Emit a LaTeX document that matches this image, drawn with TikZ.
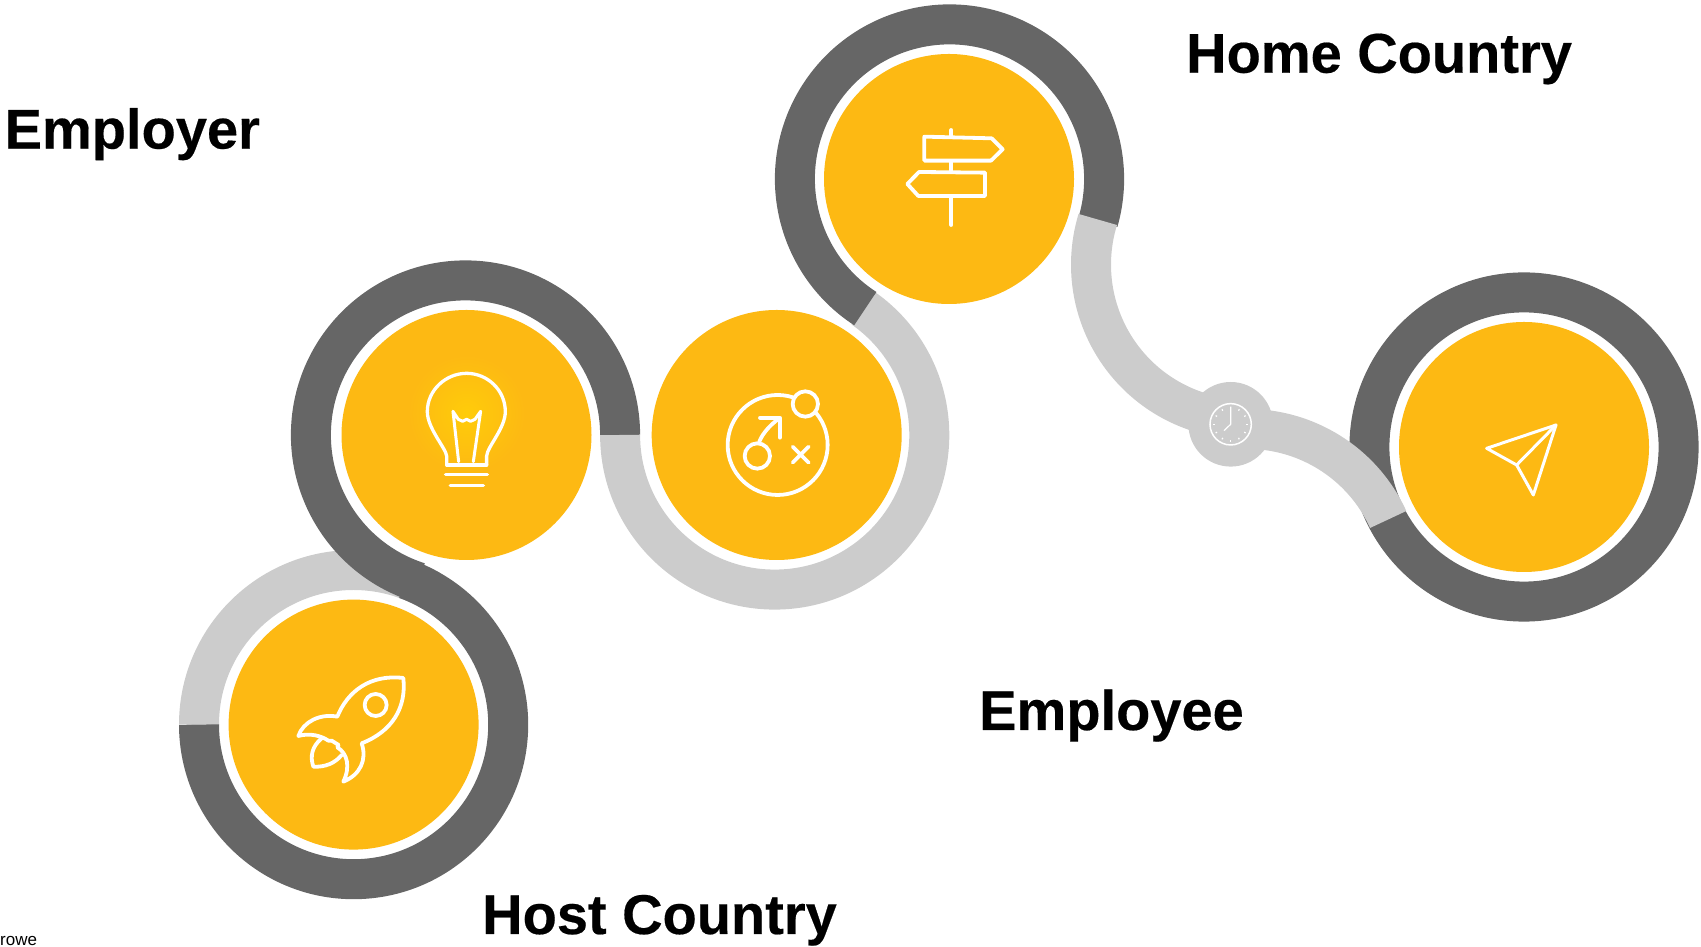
\documentclass[tikz,border=0pt]{standalone}
\usepackage{fontspec}
\setmainfont{Liberation Sans}
\newfontfamily\lblfont{Liberation Sans Bold}[FakeBold=0.35]
\definecolor{ringdark}{HTML}{666666}
\definecolor{ringlight}{HTML}{CCCCCC}
\definecolor{gold}{HTML}{FDB913}
\definecolor{glow}{HTML}{FFCC0A}
\tikzset{
  darkband/.style={draw=ringdark,line width=40pt},
  lightband/.style={draw=ringlight,line width=40pt},
  disc/.style={fill=gold,draw=none},
  icon/.style={draw=white,line cap=round,line join=round,line width=3.8pt},
  title/.style={font=\lblfont\fontsize{56}{60}\selectfont,anchor=base west,inner sep=0pt,text=black},
}
\def\R{154.6}
\begin{document}
\begin{tikzpicture}[x=1pt,y=1pt]
\useasboundingbox (0,0) rectangle (1701,947);
\coordinate (rocket) at (353.6,222.4);
\coordinate (bulb) at (466.5,512);
\coordinate (target) at (776.7,512);
\coordinate (sign) at (949,768);
\coordinate (plane) at (1524,500);
\coordinate (clock) at (1230.7,522.7);
\coordinate (ringB) at (465.5,512);
\coordinate (ringT) at (774.7,512);
\coordinate (ringS) at (949.5,768);
\coordinate (bendA) at (1245.6,682.3);
\coordinate (bendB) at (1247.5,363.4);
% rocket ring: light over the top, dark round the rest
\draw[lightband] (rocket) ++(180:\R pt) arc (180:60:\R pt);
\draw[darkband] (rocket) ++(180:\R pt) arc (180:430.1:\R pt);
\draw[darkband] (ringB) ++(0:\R pt) arc (0:252.3:\R pt);
% plane dark ring
\draw[darkband] (plane) circle [radius=\R pt];
% target ring and sign ring
\draw[lightband] (ringT) ++(180:\R pt) arc (180:415:\R pt);
\draw[darkband] (ringS) ++(237:\R pt) arc (237:-16:\R pt);
% light curve sign -> clock -> plane
\draw[lightband] (bendA) ++(163:\R pt) arc (163:260:\R pt);
\draw[lightband] (bendB) ++(100:\R pt) arc (100:24.5:\R pt);
\fill[ringlight] (clock) circle [radius=42.3pt];
% discs
\foreach \c in {rocket,bulb,target,sign,plane}{\fill[disc] (\c) circle [radius=125pt];}
% bulb icon
\begin{scope}[shift={(270,597)},x=0.3333pt,y=-0.3333pt]
  \shade[inner color=glow,outer color=gold] (590,190) circle [radius=175];
  \draw[icon,line width=3.3pt] (530,345) -- (530,318) .. controls (528,295) and (472,235) .. (472,185) .. controls (472,120) and (528,70) .. (590,70) .. controls (652,70) and (706,120) .. (706,185) .. controls (706,235) and (652,290) .. (650,318) -- (650,345);
  \draw[icon,line width=3.3pt] (530,345) -- (650,345);
  \draw[icon,line width=3.6pt] (527,373) -- (652,373);
  \draw[icon,line width=3.6pt] (541,407) -- (640,407);
  \draw[icon,line width=3pt] (566,335) -- (549,184) -- (565,208) -- (578,214) -- (590,208) -- (602,214) -- (615,208) -- (632,184) -- (610,335);
\end{scope}
% rocket icon
\begin{scope}[shift={(260,297)},x=0.3333pt,y=-0.3333pt]
  \draw[icon] (232,200) .. controls (262,125) and (330,72) .. (430,84) .. controls (440,175) and (395,245) .. (305,280) .. controls (322,330) and (300,375) .. (250,395) .. controls (272,350) and (262,310) .. (232,292) -- (236,285) -- (215,272) -- (205,272) .. controls (185,258) and (150,248) .. (115,258) .. controls (130,215) and (180,190) .. (232,200) -- cycle;
  \draw[icon] (185,265) .. controls (155,290) and (150,320) .. (160,350) .. controls (195,352) and (225,340) .. (245,315);
  \draw[icon] (347,165) circle [radius=33];
\end{scope}
% target icon
\begin{scope}[shift={(700,577)},x=0.3333pt,y=-0.3333pt]
  \draw[icon] (233,225) circle [radius=150];
  \filldraw[icon,fill=gold] (316,102) circle [radius=38];
  \draw[icon] (178,215) .. controls (188,190) and (210,165) .. (238,145);
  \draw[icon] (180,143) -- (240,143) -- (240,203);
  \filldraw[icon,fill=gold] (172,258) circle [radius=38];
  \draw[icon] (278,230) -- (326,278) (326,230) -- (278,278);
\end{scope}
% signpost icon
\begin{scope}[shift={(890,837)},x=0.3333pt,y=-0.3333pt]
  \draw[icon] (184,60) -- (184,80) (184,155) -- (184,185) (184,260) -- (184,345);
  \draw[icon] (103,80) -- (305,85) -- (338,118) -- (303,152) -- (103,152) -- cycle;
  \draw[icon] (87,186) -- (285,188) -- (285,258) -- (85,258) -- (52,222) -- cycle;
\end{scope}
% plane icon
\begin{scope}[shift={(1460,537)},x=0.3333pt,y=-0.3333pt]
  \draw[icon,line width=3pt] (80,115) -- (288,45) -- (220,255) -- (170,165) -- cycle;
  \draw[icon,line width=3pt] (170,165) -- (288,45);
\end{scope}
% clock icon
\begin{scope}[shift={(1060,757)},x=0.3333pt,y=-0.3333pt]
  \draw[draw=white,line width=1.5pt] (512,703) circle [radius=62];
  \draw[draw=white,line width=1.2pt,line join=round] (512,650) -- (512,703) -- (492,722);
  \foreach \a in {0,30,...,330}{\draw[draw=white,line width=1.2pt] (512,703) ++(\a:47) -- ++(\a:5);}
\end{scope}
% labels
\node[title] (employer) at (4.5,798.4) {Employer};
\node[title] (home) at (1186,874.3) {Home Country};
\node[title] (employee) at (979,217) {Employee};
\node[title] (host) at (482,13) {Host Country};
\node[anchor=base west,inner sep=0pt,font=\fontsize{17}{20}\selectfont] (rowe) at (0,1) {rowe};
\end{tikzpicture}
\end{document}
